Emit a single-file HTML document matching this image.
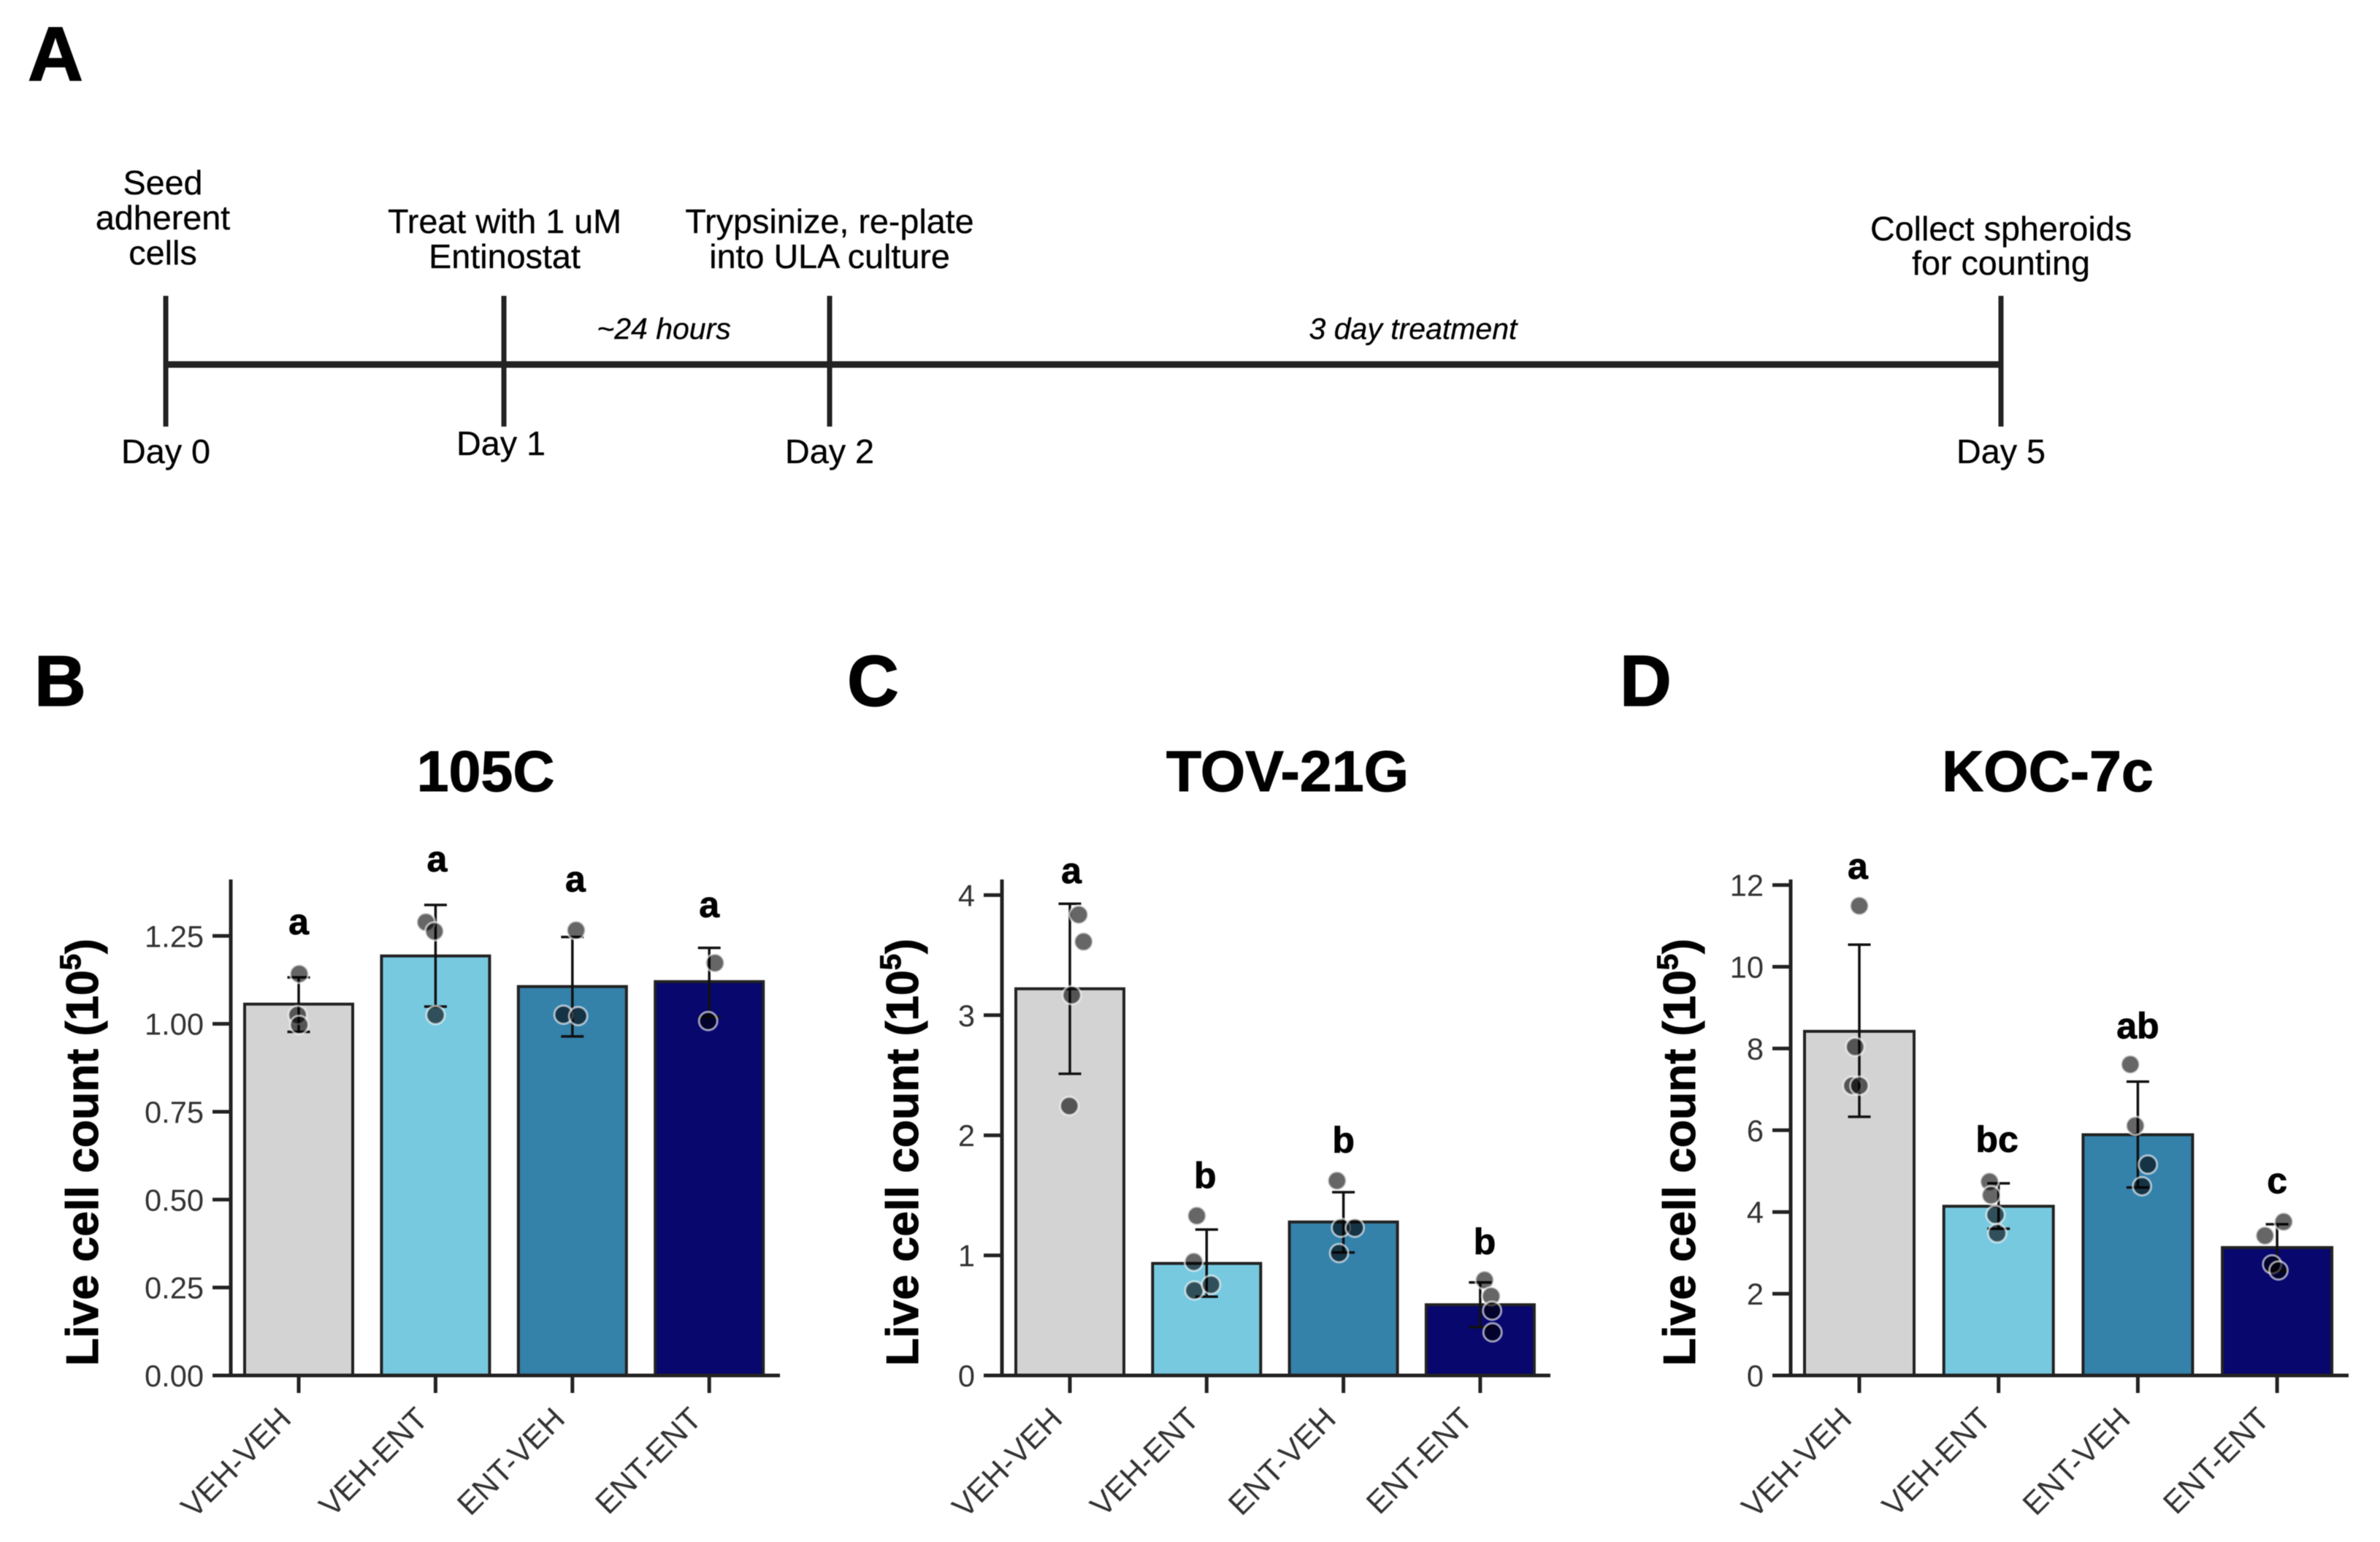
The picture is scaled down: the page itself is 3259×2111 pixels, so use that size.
<!DOCTYPE html>
<html lang="en">
<head>
<meta charset="utf-8">
<title>Live cell count after Entinostat treatment</title>
<style>
  html, body { margin: 0; padding: 0; background: #fff; }
  svg { display: block; filter: blur(0.5px); font-family: "Liberation Sans", Arial, sans-serif; }
  .panel-letter { font-size: 98px; font-weight: 700; fill: #000; stroke: #000; stroke-width: 1.5; }
  .panel-letter-large { font-size: 105px; }
  .step { font-size: 46.7px; fill: #000; text-anchor: middle; stroke: #000; stroke-width: 0.3; }
  .span { font-size: 41px; font-style: italic; fill: #000; text-anchor: middle; stroke: #000; stroke-width: 0.3; }
  .title { font-size: 79px; font-weight: 700; fill: #000; text-anchor: middle; stroke: #000; stroke-width: 1; }
  .ylabel { font-size: 62.5px; font-weight: 700; fill: #000; stroke: #000; stroke-width: 1; }
  .tick { font-size: 41.6px; fill: #333; }
  .xtick { font-size: 43px; fill: #333; }
  .sig { font-size: 50px; font-weight: 700; fill: #000; text-anchor: middle; stroke: #000; stroke-width: 0.8; }
</style>
</head>
<body>
<svg id="figure" xmlns="http://www.w3.org/2000/svg" width="3259" height="2111" viewBox="0 0 3259 2111">
  <rect x="0" y="0" width="3259" height="2111" fill="#fff"/>

  <g>
    <text class="panel-letter panel-letter-large" x="38" y="110">A</text>
    <line x1="227" y1="499" x2="2740" y2="499" stroke="#222" stroke-width="9"/>
    <line x1="227" y1="405" x2="227" y2="584" stroke="#222" stroke-width="7"/>
    <line x1="690" y1="405" x2="690" y2="584" stroke="#222" stroke-width="7"/>
    <line x1="1136" y1="405" x2="1136" y2="584" stroke="#222" stroke-width="7"/>
    <line x1="2740" y1="405" x2="2740" y2="584" stroke="#222" stroke-width="7"/>

    <g>
      <text class="step" x="223" y="266">Seed</text>
      <text class="step" x="223" y="314">adherent</text>
      <text class="step" x="223" y="362">cells</text>
    </g>
    <g>
      <text class="step" x="691" y="319">Treat with 1 uM</text>
      <text class="step" x="691" y="367">Entinostat</text>
    </g>
    <g>
      <text class="step" x="1136" y="319">Trypsinize, re-plate</text>
      <text class="step" x="1136" y="367">into ULA culture</text>
    </g>
    <g>
      <text class="step" x="2740" y="329">Collect spheroids</text>
      <text class="step" x="2740" y="376">for counting</text>
    </g>

    <text class="span" x="909" y="464">~24 hours</text>
    <text class="span" x="1935" y="464">3 day treatment</text>

    <text class="step" x="227" y="634">Day 0</text>
    <text class="step" x="686" y="623">Day 1</text>
    <text class="step" x="1136" y="634">Day 2</text>
    <text class="step" x="2740" y="634">Day 5</text>
  </g>

  <text class="panel-letter" x="47" y="966">B</text>
  <text class="panel-letter" x="1160" y="966">C</text>
  <text class="panel-letter" x="2218" y="966">D</text>

  <text class="title" x="665" y="1083">105C</text>
  <text class="title" x="1763" y="1083">TOV-21G</text>
  <text class="title" x="2804" y="1083">KOC-7c</text>

  <text class="ylabel" transform="translate(134 1870) rotate(-90)">Live cell count (10<tspan font-size="40" dy="-24">5</tspan><tspan dy="24">)</tspan></text>
  <text class="ylabel" transform="translate(1257 1870) rotate(-90)">Live cell count (10<tspan font-size="40" dy="-24">5</tspan><tspan dy="24">)</tspan></text>
  <text class="ylabel" transform="translate(2321 1870) rotate(-90)">Live cell count (10<tspan font-size="40" dy="-24">5</tspan><tspan dy="24">)</tspan></text>

  <g id="chart-105c"></g>
  <g id="chart-tov"></g>
  <g id="chart-koc"></g>
</svg>

<script>
// ---- Shared categories ----
var categories = ['VEH-VEH', 'VEH-ENT', 'ENT-VEH', 'ENT-ENT'];
var barColors = ['#d3d3d3', '#77c9e0', '#3481aa', '#07076e'];

// ---- 105C values ----
var ticks105C = ['0.00', '0.25', '0.50', '0.75', '1.00', '1.25'];
var means105C = [1.056, 1.193, 1.106, 1.12];
var lower105C = [0.977, 1.049, 0.964, 1.02];
var upper105C = [1.132, 1.338, 1.247, 1.216];
var points105C = [[1.142, 1.025, 0.997], [1.289, 1.263, 1.025], [1.266, 1.026, 1.022], [1.173, 1.008]];
var jitter105C = [[0.004, -0.008, 0.004], [-0.07, -0.008, 0], [0.027, -0.065, 0.042], [0.042, -0.008]];
var letters105C = ['a', 'a', 'a', 'a'];
var letterY105C = [1.255, 1.433, 1.376, 1.304];
var letterShift105C = [0, 0.011, 0.022, 0];

// ---- TOV-21G values ----
var ticksTOV = ['0', '1', '2', '3', '4'];
var meansTOV = [3.22, 0.933, 1.278, 0.589];
var lowerTOV = [2.512, 0.656, 1.024, 0.402];
var upperTOV = [3.928, 1.215, 1.526, 0.775];
var pointsTOV = [[3.837, 3.612, 3.167, 2.244], [1.33, 0.947, 0.708, 0.756], [1.622, 1.23, 1.23, 1.019], [0.794, 0.66, 0.54, 0.359]];
var jitterTOV = [[0.065, 0.10, 0.014, -0.004], [-0.072, -0.094, -0.09, 0.032], [-0.047, -0.018, 0.083, -0.032], [0.032, 0.08, 0.087, 0.09]];
var lettersTOV = ['a', 'b', 'b', 'b'];
var letterYTOV = [4.10, 1.56, 1.856, 1.01];
var letterShiftTOV = [0.011, -0.011, 0, 0.033];

// ---- KOC-7c values ----
var ticksKOC = ['0', '2', '4', '6', '8', '10', '12'];
var meansKOC = [8.42, 4.14, 5.89, 3.13];
var lowerKOC = [6.33, 3.59, 4.60, 2.56];
var upperKOC = [10.54, 4.70, 7.19, 3.70];
var pointsKOC = [[11.49, 8.04, 7.09, 7.09], [4.74, 4.41, 3.93, 3.48], [7.61, 6.11, 5.16, 4.63], [3.76, 3.42, 2.72, 2.57]];
var jitterKOC = [[0, -0.03, -0.05, 0], [-0.065, -0.054, -0.022, -0.01], [-0.054, -0.018, 0.072, 0.03], [0.047, -0.087, -0.036, 0.01]];
var lettersKOC = ['a', 'bc', 'ab', 'c'];
var letterYKOC = [12.15, 5.47, 8.25, 4.46];
var letterShiftKOC = [-0.011, -0.011, 0, 0];

var SVG_NS = 'http://www.w3.org/2000/svg';

function make(parent, tag, attrs, text) {
  var node = document.createElementNS(SVG_NS, tag);
  for (var key in attrs) { node.setAttribute(key, attrs[key]); }
  if (text !== undefined) { node.textContent = text; }
  parent.appendChild(node);
  return node;
}

function drawChart(rootId, slug, frame, ticks, means, lower, upper, points, jitter, letters, letterY, letterShift) {
  var root = document.getElementById(rootId);
  var baseline = 1883;
  var axisTop = 1204;
  var ink = '#222';
  function xScale(i) { return frame.firstX + i * frame.step; }
  function yScale(v) { return baseline - v * frame.pxPerUnit; }

  // bars
  means.forEach(function (mean, i) {
    var bar = make(root, 'rect', {
      x: xScale(i) - frame.barWidth / 2,
      y: yScale(mean),
      width: frame.barWidth,
      height: baseline - yScale(mean),
      fill: barColors[i],
      stroke: ink,
      'stroke-width': 4
    });
    
    
  });

  // y axis ticks and labels
  ticks.forEach(function (label) {
    var value = parseFloat(label);
    var tick = make(root, 'line', {
      x1: frame.axisX - 25, x2: frame.axisX,
      y1: yScale(value), y2: yScale(value),
      stroke: ink, 'stroke-width': 5
    });
    
    
    var text = make(root, 'text', {
      'class': 'tick', x: frame.axisX - 37, y: yScale(value) + 15, 'text-anchor': 'end'
    }, label);
    
    
  });

  // axes
  var yAxis = make(root, 'line', {
    x1: frame.axisX, x2: frame.axisX, y1: axisTop, y2: baseline + 2.5,
    stroke: ink, 'stroke-width': 5
  });
  
  
  var xAxis = make(root, 'line', {
    x1: frame.axisX - 25, x2: frame.axisEnd, y1: baseline, y2: baseline,
    stroke: ink, 'stroke-width': 5
  });
  
  

  // x ticks and category labels
  categories.forEach(function (name, i) {
    var tick = make(root, 'line', {
      x1: xScale(i), x2: xScale(i), y1: baseline, y2: baseline + 24,
      stroke: ink, 'stroke-width': 5
    });
    
    
    var ax = xScale(i) - 8;
    var label = make(root, 'text', {
      'class': 'xtick', x: 0, y: 0, 'text-anchor': 'end',
      transform: 'translate(' + ax + ' 1945) rotate(-45)'
    }, name);
    
    
  });

  // error bars
  means.forEach(function (mean, i) {
    var group = make(root, 'g', { stroke: '#111', 'stroke-width': 3.5 });
    
    
    var x = xScale(i);
    make(group, 'line', { x1: x, x2: x, y1: yScale(lower[i]), y2: yScale(upper[i]) });
    make(group, 'line', { x1: x - 15.5, x2: x + 15.5, y1: yScale(lower[i]), y2: yScale(lower[i]) });
    make(group, 'line', { x1: x - 15.5, x2: x + 15.5, y1: yScale(upper[i]), y2: yScale(upper[i]) });
  });

  // replicate points
  points.forEach(function (series, i) {
    series.forEach(function (value, k) {
      var dot = make(root, 'circle', {
        cx: xScale(i + jitter[i][k]),
        cy: yScale(value),
        r: 12.5,
        fill: '#000',
        'fill-opacity': 0.6,
        stroke: '#fff',
        'stroke-opacity': 0.6,
        'stroke-width': 3
      });
      
      
    });
  });

  // significance letters
  letters.forEach(function (letter, i) {
    var sig = make(root, 'text', {
      'class': 'sig', x: xScale(i + letterShift[i]), y: yScale(letterY[i])
    }, letter);
    
    
  });
}

drawChart('chart-105c', '105c',
  { axisX: 316, axisEnd: 1068, firstX: 409, step: 187.4, barWidth: 148, pxPerUnit: 481.4 },
  ticks105C, means105C, lower105C, upper105C, points105C, jitter105C, letters105C, letterY105C, letterShift105C);
drawChart('chart-tov', 'tov-21g',
  { axisX: 1372, axisEnd: 2123, firstX: 1465, step: 187.3, barWidth: 148, pxPerUnit: 164.4 },
  ticksTOV, meansTOV, lowerTOV, upperTOV, pointsTOV, jitterTOV, lettersTOV, letterYTOV, letterShiftTOV);
drawChart('chart-koc', 'koc-7c',
  { axisX: 2452, axisEnd: 3216, firstX: 2546, step: 190.7, barWidth: 150, pxPerUnit: 55.95 },
  ticksKOC, meansKOC, lowerKOC, upperKOC, pointsKOC, jitterKOC, lettersKOC, letterYKOC, letterShiftKOC);
</script>
</body>
</html>
